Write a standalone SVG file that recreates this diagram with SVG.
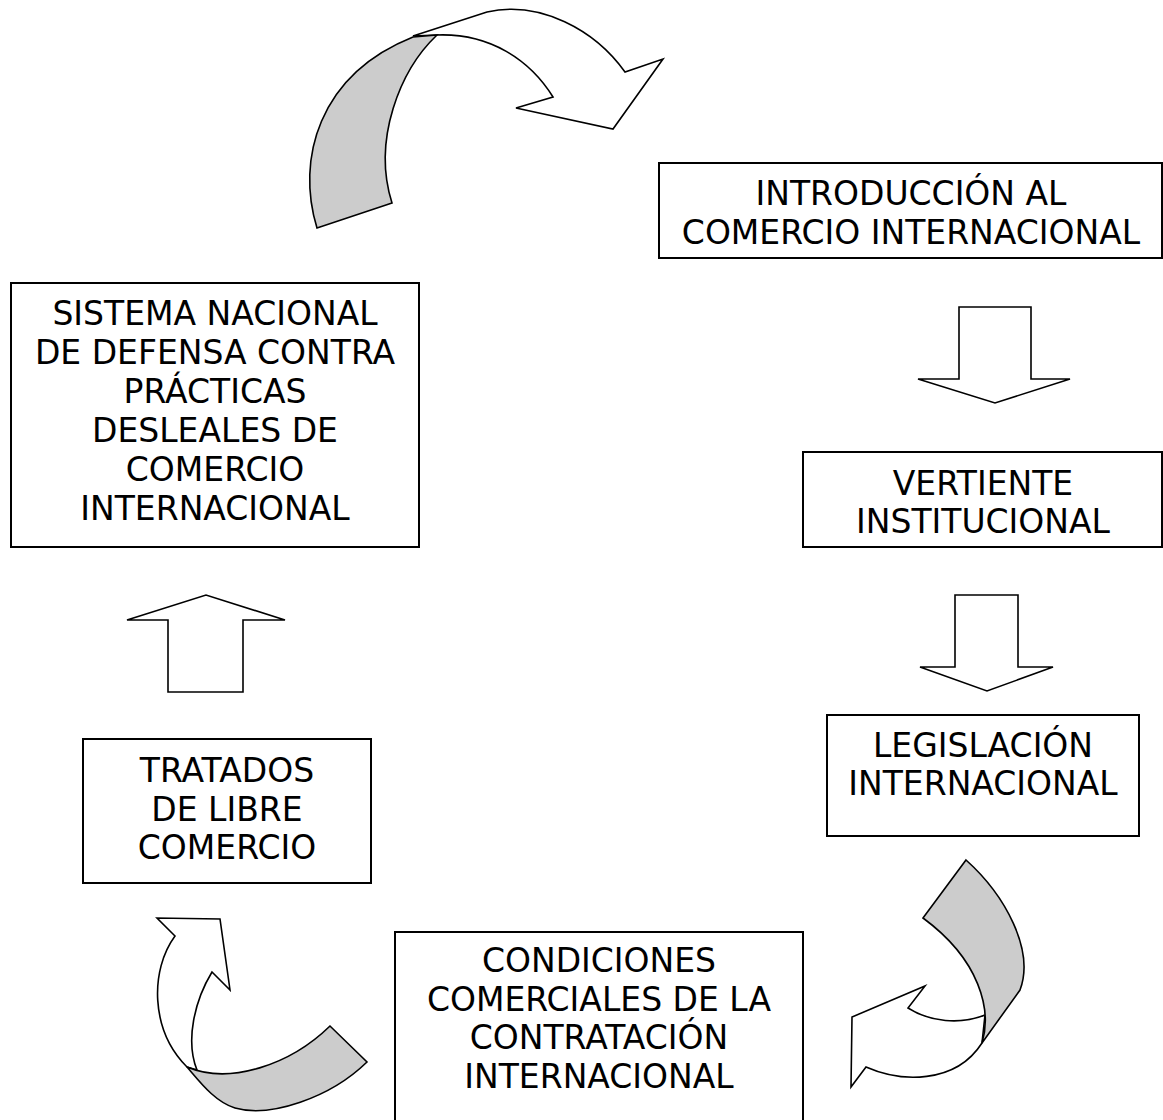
<svg xmlns="http://www.w3.org/2000/svg" width="1163" height="1120" viewBox="0 0 1163 1120">
<style>
.box{fill:#fff;stroke:#000;stroke-width:2}
.lbl{font-family:"DejaVu Sans","Liberation Sans",sans-serif;font-size:33px;fill:#000;text-anchor:middle}
.arw{fill:#fff;stroke:#000;stroke-width:1.6;stroke-linejoin:miter}
.back{fill:#cccccc;stroke:#000;stroke-width:1.6}
</style>
<rect width="1163" height="1120" fill="#fff"/>
<g id="connectors">
  <g id="curve-top">
    <path class="arw" d="M413,36 L487,12 C540,0 595,30 625,72 L663,59 L613,129 L516,108 L553,97 C530,60 490,33 437,35 Z"/>
    <path class="back" d="M317,228 C296,160 318,75 413,37 L437,35 C400,70 372,140 392,203 Z"/>
  </g>
  <g id="arrow-down-1">
    <path class="arw" d="M959,307 L1031,307 L1031,379 L1070,379 L995,403 L918,379 L959,379 Z"/>
  </g>
  <g id="arrow-down-2">
    <path class="arw" d="M955,595 L1018,595 L1018,667 L1053,667 L987,691 L920,667 L955,667 Z"/>
  </g>
  <g id="curve-bottom-right">
    <path class="arw" d="M985,1015 C960,1025 930,1022 908,1008 L925,986 L852,1017 L851,1087 L866,1067 C900,1082 955,1085 982,1043 Z"/>
    <path class="back" d="M923,918 L966,860 C1005,895 1035,950 1020,990 L982,1043 C992,1010 980,960 923,918 Z"/>
  </g>
  <g id="curve-bottom-left">
    <path class="arw" d="M175,936 L157,918 L220,919 L230,990 L212,972 C195,1000 185,1040 197,1070 L187,1067 C150,1030 150,970 175,936 Z"/>
    <path class="back" d="M187,1067 C230,1085 290,1065 330,1026 L367,1062 C330,1098 270,1118 235,1108 C215,1102 200,1082 187,1067 Z"/>
  </g>
  <g id="arrow-up">
    <path class="arw" d="M168,692 L243,692 L243,620 L285,620 L206,595 L127,620 L168,620 Z"/>
  </g>
</g>
<g id="node-introduccion">
  <rect class="box" x="659" y="163" width="503" height="95"/>
  <text class="lbl" x="911" y="205">INTRODUCCIÓN AL</text>
  <text class="lbl" x="911" y="244">COMERCIO INTERNACIONAL</text>
</g>
<g id="node-vertiente">
  <rect class="box" x="803" y="452" width="359" height="95"/>
  <text class="lbl" x="983" y="495">VERTIENTE</text>
  <text class="lbl" x="983" y="533">INSTITUCIONAL</text>
</g>
<g id="node-legislacion">
  <rect class="box" x="827" y="715" width="312" height="121"/>
  <text class="lbl" x="983" y="757">LEGISLACIÓN</text>
  <text class="lbl" x="983" y="795">INTERNACIONAL</text>
</g>
<g id="node-condiciones">
  <rect class="box" x="395" y="932" width="408" height="200"/>
  <text class="lbl" x="599" y="972">CONDICIONES</text>
  <text class="lbl" x="599" y="1011">COMERCIALES DE LA</text>
  <text class="lbl" x="599" y="1049">CONTRATACIÓN</text>
  <text class="lbl" x="599" y="1088">INTERNACIONAL</text>
</g>
<g id="node-tratados">
  <rect class="box" x="83" y="739" width="288" height="144"/>
  <text class="lbl" x="227" y="782">TRATADOS</text>
  <text class="lbl" x="227" y="821">DE LIBRE</text>
  <text class="lbl" x="227" y="859">COMERCIO</text>
</g>
<g id="node-sistema">
  <rect class="box" x="11" y="283" width="408" height="264"/>
  <text class="lbl" x="215" y="325">SISTEMA NACIONAL</text>
  <text class="lbl" x="215" y="364">DE DEFENSA CONTRA</text>
  <text class="lbl" x="215" y="403">PRÁCTICAS</text>
  <text class="lbl" x="215" y="442">DESLEALES DE</text>
  <text class="lbl" x="215" y="481">COMERCIO</text>
  <text class="lbl" x="215" y="520">INTERNACIONAL</text>
</g>
</svg>
